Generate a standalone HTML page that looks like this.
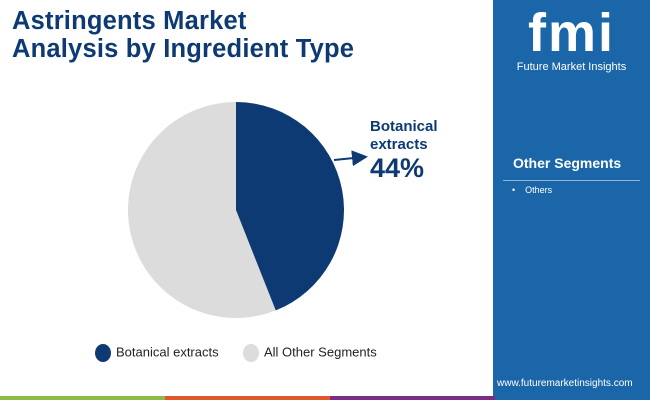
<!DOCTYPE html>
<html><head><meta charset="utf-8"><style>
body{margin:0;width:650px;height:400px;overflow:hidden;position:relative;background:#fff;font-family:"Liberation Sans",sans-serif}
.abs{position:absolute}
</style></head><body>
<div class="abs" style="left:12px;top:7px;font-size:25.5px;font-weight:bold;color:#0d3a73;line-height:28px;letter-spacing:0.2px">Astringents Market<br>Analysis by Ingredient Type</div>
<div class="abs" style="left:493px;top:0;width:157px;height:400px;background:#1a66a8"></div>
<div class="abs" style="left:493px;top:6px;width:157px;text-align:center;color:#fff">
<div style="font-family:'Liberation Sans',sans-serif;font-weight:bold;font-size:54px;line-height:54px;letter-spacing:2px">fmi</div>
<div style="font-size:11px;margin-top:1px">Future Market Insights</div></div>
<div class="abs" style="left:513px;top:155px;color:#fff;font-weight:bold;font-size:14px">Other Segments</div>
<div class="abs" style="left:503px;top:180px;width:137px;height:1px;background:#8fb4d8"></div>
<div class="abs" style="left:512px;top:185px;color:#fff;font-size:9px">•&nbsp;&nbsp;&nbsp;&nbsp;Others</div>
<div class="abs" style="left:497px;top:378px;color:#fff;font-size:10px">www.futuremarketinsights.com</div>
<div class="abs" style="left:0;top:396px;width:165px;height:4px;background:#8dbb45"></div>
<div class="abs" style="left:165px;top:396px;width:165px;height:4px;background:#e0572a"></div>
<div class="abs" style="left:330px;top:396px;width:165px;height:4px;background:#7b2c85"></div>
<svg class="abs" style="left:0;top:0" width="493" height="400" id="pie">
<defs><marker id="ah" markerWidth="8" markerHeight="8" refX="6" refY="4" orient="auto"><path d="M0,0L8,4L0,8z" fill="#0d3a73"/></marker></defs>
<line x1="334" y1="160" x2="364" y2="157" stroke="#0d3a73" stroke-width="2" marker-end="url(#ah)"/>
</svg>
<div class="abs" style="left:370px;top:118px;color:#0d3a73;font-weight:bold;font-size:15px;line-height:18px">Botanical<br>extracts<br><span style="font-size:27px;line-height:28px">44%</span></div>
<div class="abs" style="left:95px;top:344px;font-size:13px;color:#222"><span style="display:inline-block;width:16px;height:18px;border-radius:50%;background:#0d3a73;vertical-align:middle;margin-right:5px"></span>Botanical extracts</div>
<div class="abs" style="left:243px;top:344px;font-size:13px;color:#222"><span style="display:inline-block;width:16px;height:18px;border-radius:50%;background:#dcdcdc;vertical-align:middle;margin-right:5px"></span>All Other Segments</div>
<script>
const categories=["Botanical extracts","All Other Segments"];
const values=[44,56];
const colors=["#0d3a73","#dcdcdc"];
const svg=document.getElementById('pie');
const cx=236,cy=210,r=108;
const total=values.reduce((a,b)=>a+b,0);
let a0=-Math.PI/2;
values.forEach((v,i)=>{
 const a1=a0+v/total*2*Math.PI;
 const x0=cx+r*Math.cos(a0),y0=cy+r*Math.sin(a0),x1=cx+r*Math.cos(a1),y1=cy+r*Math.sin(a1);
 const p=document.createElementNS('http://www.w3.org/2000/svg','path');
 p.setAttribute('d',`M${cx},${cy}L${x0},${y0}A${r},${r} 0 ${a1-a0>Math.PI?1:0} 1 ${x1},${y1}Z`);
 p.setAttribute('fill',colors[i]);
 
 
 svg.insertBefore(p,svg.firstChild.nextSibling);
 a0=a1;
});
</script>
</body></html>
